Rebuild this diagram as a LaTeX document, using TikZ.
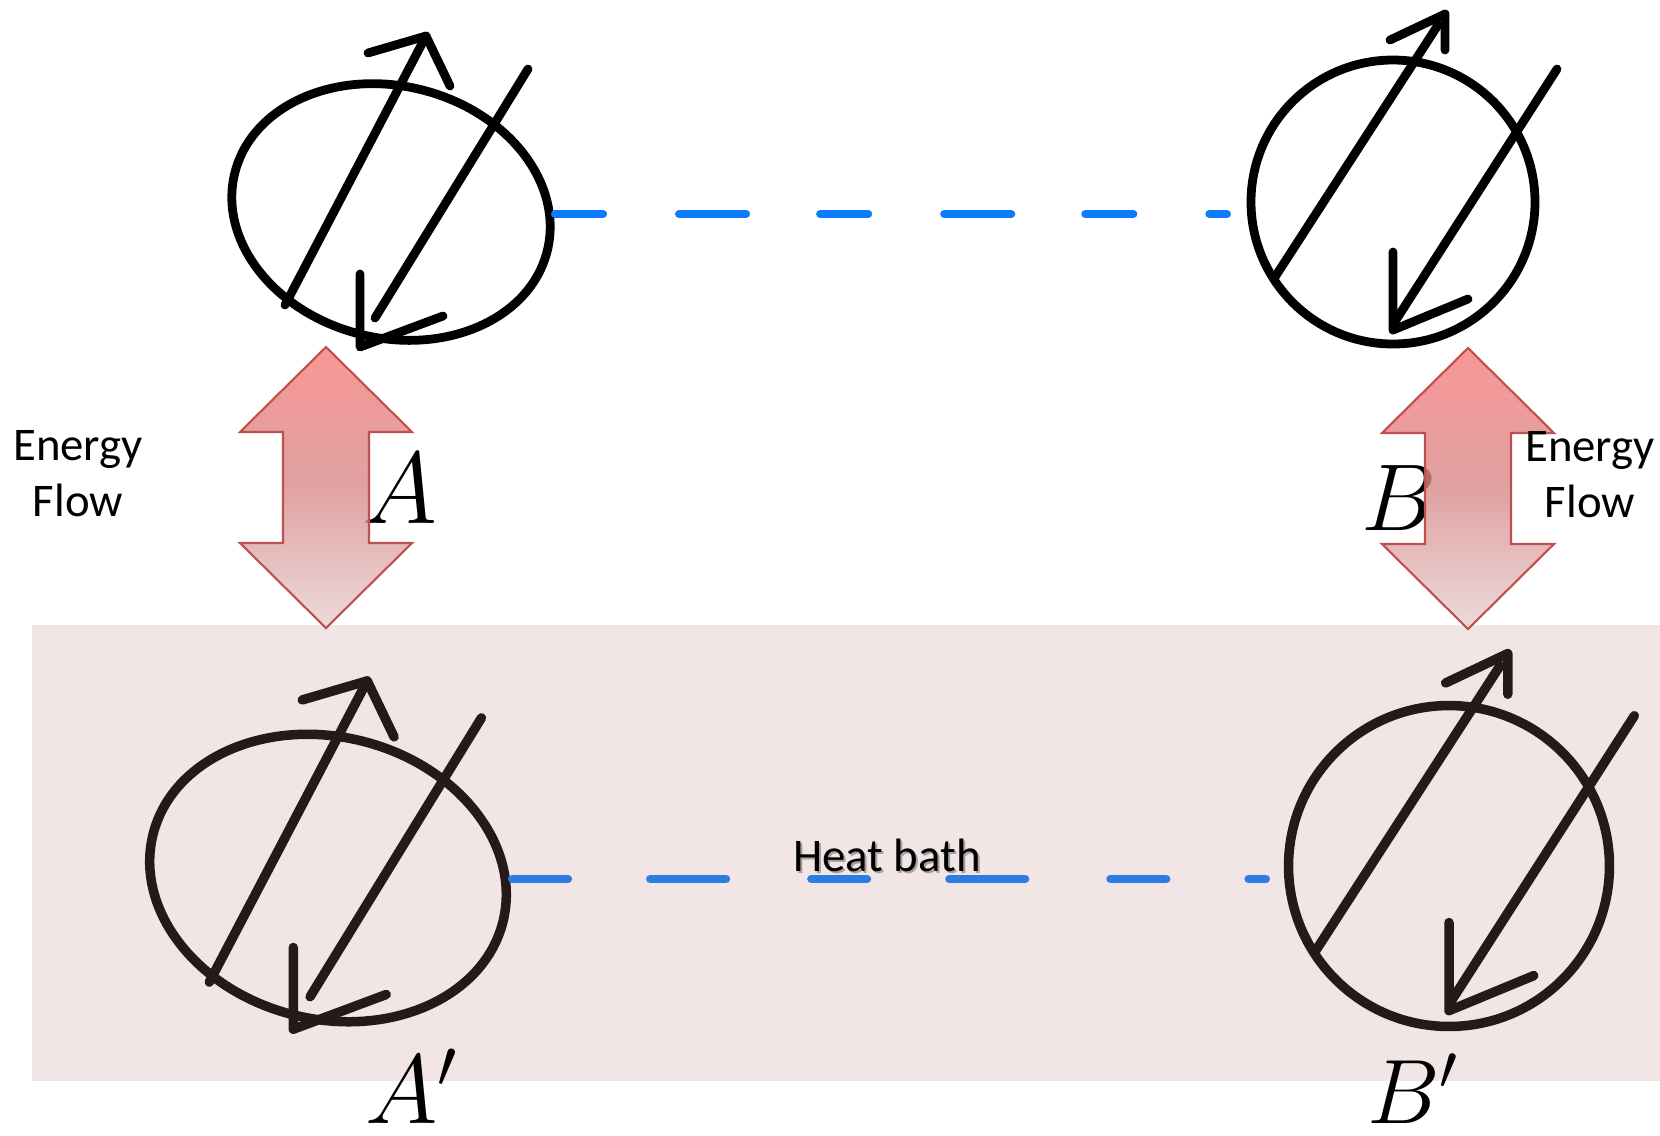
\RequirePackage{fix-cm}
\documentclass[tikz,border=0pt]{standalone}
\usepackage{fontspec}
\newfontfamily\calibri{Carlito}

\definecolor{spinblue}{RGB}{12,124,252}
\definecolor{flowedge}{RGB}{192,80,77}
\definecolor{flowtop}{RGB}{246,124,124}
\definecolor{flowmid}{RGB}{216,138,138}
\definecolor{flowbot}{RGB}{232,210,210}
\definecolor{bathred}{RGB}{185,125,125}

\tikzset{
  spin/.style={line width=2.5pt, line cap=round, line join=round},
  % tilted ellipse with the two antiparallel spins
  pics/spin ellipse/.style={code={
      \draw[spin, rotate=-14] (0,0) ellipse [x radius=161, y radius=126];
      \draw[spin] (-106,93) -- (35,-176);
      \draw[spin] (-23,-159) -- (35,-176) -- (59,-126);
      \draw[spin] (137,-143) -- (-16,106);
      \draw[spin] (-31,62) -- (-31,135) -- (52,104);
  }},
  % round one
  pics/spin circle/.style={code={
      \draw[spin] (0,0) circle [radius=142];
      \draw[spin] (-118,75) -- (45,-177);
      \draw[spin] (-3,-162) -- (52,-188) -- (52,-152);
      \draw[spin] (164,-133) -- (1,121);
      \draw[spin] (0,50) -- (0,128) -- (75,97);
  }},
  % double headed arrow, tip at the origin
  pics/energy arrow/.style={code={
      \path[draw=flowedge, line width=0.6pt, top color=flowtop, bottom color=flowbot,
            middle color=flowmid, fill opacity=0.8]
        (0,0) -- (86,85) -- (43,85) -- (43,196) -- (86,196) -- (0,281)
        -- (-86,196) -- (-43,196) -- (-43,85) -- (-86,85) -- cycle;
  }}
}

\begin{document}
\begin{tikzpicture}[x=0.01cm, y=-0.01cm,
    bond/.style={line width=2.3pt, line cap=round, spinblue},
    letter/.style={anchor=base, inner sep=0pt},
    note/.style={font=\calibri\fontsize{13.3}{16}\selectfont, align=center, inner sep=0pt}]
  \useasboundingbox (0,0) rectangle (1660,1135);

  % upper pair
  \pic at (391,212) {spin ellipse};
  \pic at (1393,202) {spin circle};
  \coordinate (a-r) at (555,214);
  \coordinate (b-l) at (1227,214);
  \draw[bond, dash pattern=on 0.48cm off 0.76cm on 0.67cm off 0.74cm] (a-r) -- (b-l);

  % lower pair, sitting in the bath
  \pic[scale=1.12, spin/.append style={line width=2.7pt}] at (328,878) {spin ellipse};
  \pic[scale=1.13, spin/.append style={line width=2.7pt}] at (1449,866) {spin circle};
  \coordinate (ap-r) at (512,879);
  \coordinate (bp-l) at (1266,879);
  \draw[bond, dash pattern=on 0.56cm off 0.82cm on 0.76cm off 0.85cm] (ap-r) -- (bp-l);

  % heat bath
  \fill[bathred, fill opacity=0.2] (32,625) rectangle (1660,1081);
  \node[note, anchor=base, text=black, text opacity=0.3] (bathshadow) at (889,873) {Heat bath};
  \node[note, anchor=base] (bath) at (887,871) {Heat bath};

  % labels
  \node[letter, font=\fontsize{29}{30}\selectfont] (A) at (400,523) {$A$};
  \node[letter, font=\fontsize{27}{30}\selectfont] (B) at (1399,530) {$B$};
  \node[letter, font=\fontsize{28}{30}\selectfont] (A') at (412,1123) {$A'$};
  \node[letter, font=\fontsize{26}{30}\selectfont] (B') at (1413,1123) {$B'$};

  % energy exchange with the bath
  \pic at (326,347) {energy arrow};
  \pic at (1468,348) {energy arrow};
  \node[note] (flowA) at (78,474) {Energy\\Flow};
  \node[note] (flowB) at (1590,475) {Energy\\Flow};
\end{tikzpicture}
\end{document}
